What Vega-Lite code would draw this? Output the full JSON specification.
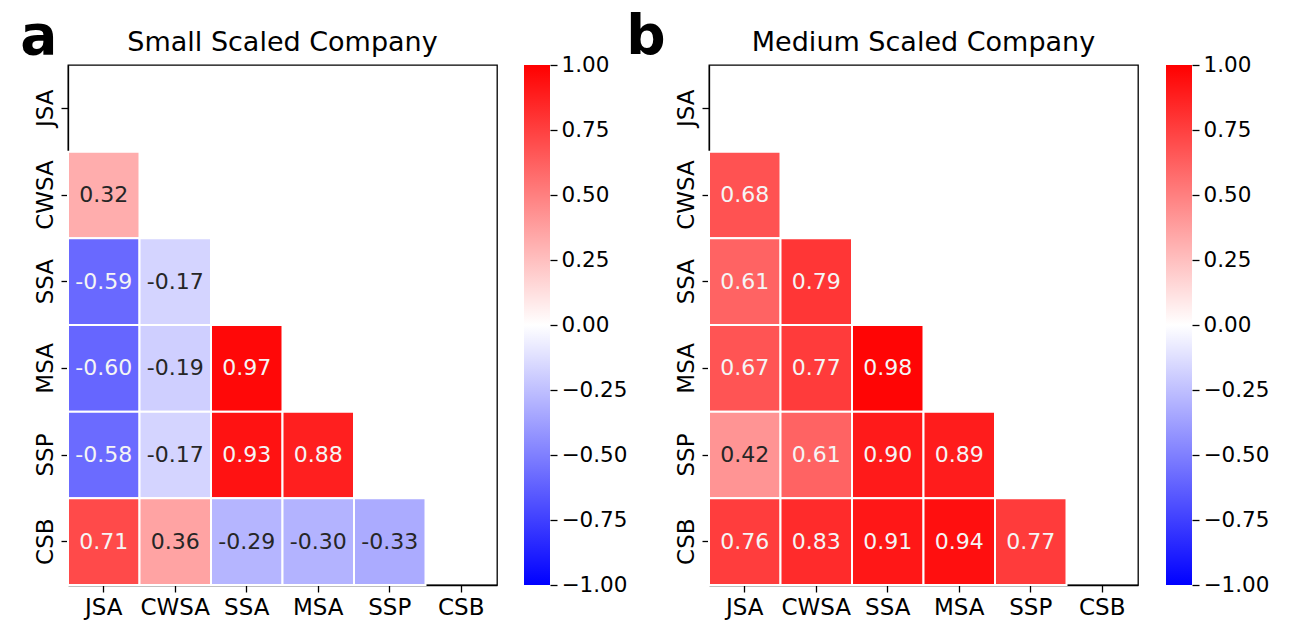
{
  "$schema": "https://vega.github.io/schema/vega-lite/v6.json",
  "description": "Lower-triangle correlation heatmaps, small and medium scaled company",
  "padding": {"left": 20, "top": 10, "right": 0, "bottom": 0},
  "background": "white",
  "datasets": {
    "corr": [
      {"company": "Small", "row": "CWSA", "col": "JSA", "r": 0.32},
      {"company": "Small", "row": "SSA", "col": "JSA", "r": -0.59},
      {"company": "Small", "row": "SSA", "col": "CWSA", "r": -0.17},
      {"company": "Small", "row": "MSA", "col": "JSA", "r": -0.60},
      {"company": "Small", "row": "MSA", "col": "CWSA", "r": -0.19},
      {"company": "Small", "row": "MSA", "col": "SSA", "r": 0.97},
      {"company": "Small", "row": "SSP", "col": "JSA", "r": -0.58},
      {"company": "Small", "row": "SSP", "col": "CWSA", "r": -0.17},
      {"company": "Small", "row": "SSP", "col": "SSA", "r": 0.93},
      {"company": "Small", "row": "SSP", "col": "MSA", "r": 0.88},
      {"company": "Small", "row": "CSB", "col": "JSA", "r": 0.71},
      {"company": "Small", "row": "CSB", "col": "CWSA", "r": 0.36},
      {"company": "Small", "row": "CSB", "col": "SSA", "r": -0.29},
      {"company": "Small", "row": "CSB", "col": "MSA", "r": -0.30},
      {"company": "Small", "row": "CSB", "col": "SSP", "r": -0.33},
      {"company": "Medium", "row": "CWSA", "col": "JSA", "r": 0.68},
      {"company": "Medium", "row": "SSA", "col": "JSA", "r": 0.61},
      {"company": "Medium", "row": "SSA", "col": "CWSA", "r": 0.79},
      {"company": "Medium", "row": "MSA", "col": "JSA", "r": 0.67},
      {"company": "Medium", "row": "MSA", "col": "CWSA", "r": 0.77},
      {"company": "Medium", "row": "MSA", "col": "SSA", "r": 0.98},
      {"company": "Medium", "row": "SSP", "col": "JSA", "r": 0.42},
      {"company": "Medium", "row": "SSP", "col": "CWSA", "r": 0.61},
      {"company": "Medium", "row": "SSP", "col": "SSA", "r": 0.90},
      {"company": "Medium", "row": "SSP", "col": "MSA", "r": 0.89},
      {"company": "Medium", "row": "CSB", "col": "JSA", "r": 0.76},
      {"company": "Medium", "row": "CSB", "col": "CWSA", "r": 0.83},
      {"company": "Medium", "row": "CSB", "col": "SSA", "r": 0.91},
      {"company": "Medium", "row": "CSB", "col": "MSA", "r": 0.94},
      {"company": "Medium", "row": "CSB", "col": "SSP", "r": 0.77}
    ],
    "bar": [{"lo": -1, "hi": 1}]
  },
  "hconcat": [
    {
      "title": {"text": "a", "anchor": "start", "fontSize": 55, "fontWeight": "bold", "offset": -38, "dx": -13},
      "spacing": 26,
      "hconcat": [
        {
          "width": 429,
          "height": 520,
          "title": {"text": "Small Scaled Company"},
          "data": {"name": "corr"},
          "transform": [
            {"filter": "datum.company == 'Small'"},
            {"calculate": "replace(format(datum.r, '.2f'), '\u2212', '-')", "as": "lbl"}
          ],
          "encoding": {
            "x": {"field": "col", "type": "nominal", "sort": null,
                  "scale": {"domain": ["JSA", "CWSA", "SSA", "MSA", "SSP", "CSB"], "paddingInner": 0, "paddingOuter": 0},
                  "axis": {"title": null, "labelAngle": 0}},
            "y": {"field": "row", "type": "nominal", "sort": null,
                  "scale": {"domain": ["JSA", "CWSA", "SSA", "MSA", "SSP", "CSB"], "paddingInner": 0, "paddingOuter": 0},
                  "axis": {"title": null, "labelAngle": -90}}
          },
          "layer": [
            {
              "mark": {"type": "rect", "stroke": "white", "strokeWidth": 2},
              "encoding": {
                "color": {"field": "r", "type": "quantitative",
                          "scale": {"domain": [-1, 0, 1], "range": ["#0000ff", "#ffffff", "#ff0000"], "interpolate": "rgb"},
                          "legend": null}
              }
            },
            {
              "mark": {"type": "text", "fontSize": 22},
              "encoding": {
                "text": {"field": "lbl"},
                "color": {"condition": {"test": "abs(datum.r) > 0.5", "value": "#f5f5f5"}, "value": "#262626"}
              }
            }
          ]
        },
        {
          "width": 26,
          "height": 520,
          "view": {"stroke": null},
          "data": {"name": "bar"},
          "mark": {"type": "rect", "color": {"gradient": "linear", "x1": 0, "y1": 1, "x2": 0, "y2": 0,
                   "stops": [{"offset": 0, "color": "#0000ff"}, {"offset": 0.5, "color": "#ffffff"}, {"offset": 1, "color": "#ff0000"}]}},
          "encoding": {
            "y": {"field": "lo", "type": "quantitative",
                  "scale": {"domain": [-1, 1], "nice": false, "zero": false},
                  "axis": {"orient": "right", "title": null, "grid": false, "domain": false, "format": ".2f", "labelFontSize": 21.5,
                           "values": [-1, -0.75, -0.5, -0.25, 0, 0.25, 0.5, 0.75, 1]}},
            "y2": {"field": "hi"}
          }
        }
      ]
    },
    {
      "title": {"text": "b", "anchor": "start", "fontSize": 55, "fontWeight": "bold", "offset": -38, "dx": -48},
      "spacing": 27,
      "hconcat": [
        {
          "width": 429,
          "height": 520,
          "title": {"text": "Medium Scaled Company"},
          "data": {"name": "corr"},
          "transform": [
            {"filter": "datum.company == 'Medium'"},
            {"calculate": "replace(format(datum.r, '.2f'), '\u2212', '-')", "as": "lbl"}
          ],
          "encoding": {
            "x": {"field": "col", "type": "nominal", "sort": null,
                  "scale": {"domain": ["JSA", "CWSA", "SSA", "MSA", "SSP", "CSB"], "paddingInner": 0, "paddingOuter": 0},
                  "axis": {"title": null, "labelAngle": 0}},
            "y": {"field": "row", "type": "nominal", "sort": null,
                  "scale": {"domain": ["JSA", "CWSA", "SSA", "MSA", "SSP", "CSB"], "paddingInner": 0, "paddingOuter": 0},
                  "axis": {"title": null, "labelAngle": -90}}
          },
          "layer": [
            {
              "mark": {"type": "rect", "stroke": "white", "strokeWidth": 2},
              "encoding": {
                "color": {"field": "r", "type": "quantitative",
                          "scale": {"domain": [-1, 0, 1], "range": ["#0000ff", "#ffffff", "#ff0000"], "interpolate": "rgb"},
                          "legend": null}
              }
            },
            {
              "mark": {"type": "text", "fontSize": 22},
              "encoding": {
                "text": {"field": "lbl"},
                "color": {"condition": {"test": "abs(datum.r) > 0.5", "value": "#f5f5f5"}, "value": "#262626"}
              }
            }
          ]
        },
        {
          "width": 26,
          "height": 520,
          "view": {"stroke": null},
          "data": {"name": "bar"},
          "mark": {"type": "rect", "color": {"gradient": "linear", "x1": 0, "y1": 1, "x2": 0, "y2": 0,
                   "stops": [{"offset": 0, "color": "#0000ff"}, {"offset": 0.5, "color": "#ffffff"}, {"offset": 1, "color": "#ff0000"}]}},
          "encoding": {
            "y": {"field": "lo", "type": "quantitative",
                  "scale": {"domain": [-1, 1], "nice": false, "zero": false},
                  "axis": {"orient": "right", "title": null, "grid": false, "domain": false, "format": ".2f", "labelFontSize": 21.5,
                           "values": [-1, -0.75, -0.5, -0.25, 0, 0.25, 0.5, 0.75, 1]}},
            "y2": {"field": "hi"}
          }
        }
      ]
    }
  ],
  "spacing": -1,
  "resolve": {"scale": {"color": "independent"}},
  "config": {
    "font": "DejaVu Sans",
    "view": {"stroke": "black", "strokeWidth": 1.3},
    "title": {"fontSize": 27, "fontWeight": "normal", "color": "black", "offset": 8},
    "axis": {
      "labelFontSize": 23,
      "labelColor": "black",
      "labelPadding": 4,
      "tickColor": "black",
      "tickSize": 7,
      "tickWidth": 1.3,
      "domain": true,
      "domainColor": "black",
      "domainWidth": 1.3,
      "zindex": 1,
      "grid": false
    }
  }
}
